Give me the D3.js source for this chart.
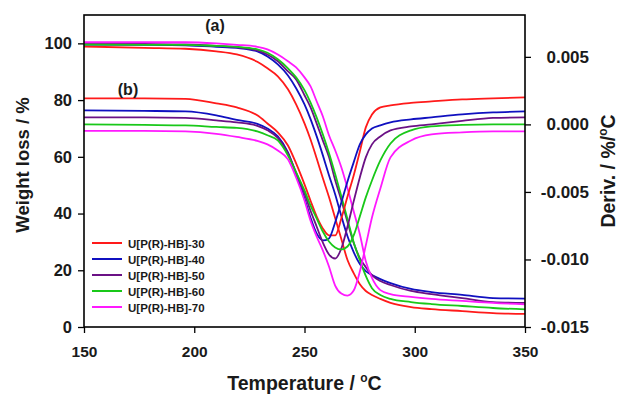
<!DOCTYPE html>
<html><head><meta charset="utf-8">
<script src="https://cdn.jsdelivr.net/npm/d3@7"></script>
<style>
html,body{margin:0;padding:0;background:#fff;}
svg{display:block;}
text{font-family:"Liberation Sans",Arial,sans-serif;font-weight:bold;fill:#1a1a1a;}
</style></head><body>
<svg id="chart" width="620" height="395"></svg>
<script>
// ---- data ----
const temps = [150, 177.4, 196, 210, 219.3, 228.6, 233.2, 237.9, 242.5, 246.2, 250, 252.7, 255.5, 258.3, 261.1, 263.9, 266.7, 269.5, 272.3, 275.1, 277.8, 280.6, 284.4, 289, 298.3, 307.6, 321.5, 335.5, 350];

const tg30 = [98.9, 98.4, 98.1, 97.2, 96.1, 93.5, 91.2, 88.4, 83.8, 78.5, 71.8, 66.2, 59.5, 52.5, 45.8, 38.4, 31.0, 23.6, 19.0, 15.1, 12.7, 11.3, 9.9, 8.5, 7.0, 6.3, 5.6, 4.9, 4.6];
const tg40 = [99.6, 99.5, 99.3, 98.8, 98.4, 97.2, 95.4, 92.6, 88.7, 84.2, 78.5, 73.4, 67.3, 60.6, 53.5, 46.8, 39.1, 32.0, 26.4, 22.2, 19.7, 18.3, 16.9, 15.5, 13.4, 12.3, 11.3, 10.2, 10.0];
const tg50 = [100, 99.8, 99.6, 99.1, 98.6, 97.5, 96.1, 93.7, 90.1, 87.3, 81.7, 77.5, 71.8, 65.8, 59.9, 51.8, 44.7, 37.0, 29.6, 24.3, 21.1, 18.3, 16.2, 14.8, 12.7, 11.6, 10.2, 8.8, 8.5];
const tg60 = [99.6, 99.5, 99.5, 99.1, 98.8, 97.9, 96.7, 94.4, 91.2, 88.0, 83.5, 79.2, 73.9, 67.9, 61.3, 53.9, 46.1, 38.0, 29.9, 23.6, 18.0, 13.7, 11.3, 9.9, 8.8, 8.1, 7.4, 6.7, 6.2];
const tg70 = [100.4, 100.4, 100.4, 100, 99.5, 98.8, 97.9, 96.1, 93.7, 91.5, 88.0, 84.9, 79.6, 74.3, 67.6, 62.3, 56.3, 48.9, 40.8, 32.7, 23.2, 17.3, 13.0, 11.6, 10.6, 9.9, 9.2, 8.5, 8.0];

const dtg30 = [0.00193, 0.00193, 0.00189, 0.00156, 0.00126, 0.00067, 0.00007, -0.00059, -0.00156, -0.00289, -0.00444, -0.00563, -0.00681, -0.0077, -0.00822, -0.00822, -0.00696, -0.00533, -0.00378, -0.002, -0.00022, 0.00074, 0.00126, 0.00141, 0.00159, 0.0017, 0.00185, 0.00193, 0.002];
const dtg40 = [0.00104, 0.001, 0.00096, 0.00067, 0.00033, 0.00004, -0.0003, -0.00089, -0.00207, -0.0037, -0.00548, -0.00689, -0.00807, -0.00859, -0.00844, -0.00726, -0.00578, -0.00422, -0.00281, -0.00148, -0.00074, -0.0003, -0.00007, 0.00015, 0.00037, 0.00052, 0.00074, 0.00089, 0.00096];
const dtg50 = [0.00052, 0.00052, 0.00048, 0.0003, 0.00015, -0.00011, -0.00044, -0.001, -0.00215, -0.00356, -0.00511, -0.00637, -0.00756, -0.00874, -0.00963, -0.00993, -0.00919, -0.00756, -0.0057, -0.00393, -0.00244, -0.00148, -0.00089, -0.00044, -0.00015, 0.0, 0.00026, 0.00048, 0.00052];
const dtg60 = [0.0, -0.00004, -0.00007, -0.00019, -0.00026, -0.00052, -0.0008, -0.00119, -0.0023, -0.00356, -0.00489, -0.006, -0.00696, -0.00793, -0.00867, -0.00911, -0.00926, -0.00904, -0.00822, -0.00681, -0.0054, -0.00415, -0.00267, -0.00141, -0.00044, -0.00015, -0.00004, 0.0, 0.0];
const dtg70 = [-0.00048, -0.00048, -0.00052, -0.0007, -0.00093, -0.00122, -0.00148, -0.00193, -0.00259, -0.00393, -0.00563, -0.00711, -0.0083, -0.00933, -0.01052, -0.01193, -0.01252, -0.01267, -0.0123, -0.01089, -0.00896, -0.00689, -0.00474, -0.00244, -0.00119, -0.00074, -0.00059, -0.00052, -0.00052];

const seriesNames = ["U[P(R)-HB]-30", "U[P(R)-HB]-40", "U[P(R)-HB]-50", "U[P(R)-HB]-60", "U[P(R)-HB]-70"];
const xTicks = [150, 200, 250, 300, 350];
const leftTicks = [0, 20, 40, 60, 80, 100];
const rightTicks = [-0.015, -0.010, -0.005, 0.000, 0.005];
const rightTickLabels = ["-0.015", "-0.010", "-0.005", "0.000", "0.005"];

// ---- styles ----
const colors = ["#ff1a1a", "#1010c0", "#6b1185", "#19c819", "#ff19ff"];

const svg = d3.select("#chart");
const m = {left: 84, right: 525, top: 15, bottom: 327};
const x = d3.scaleLinear().domain([150, 350]).range([m.left, m.right]);
const yL = d3.scaleLinear().domain([0, 110]).range([m.bottom, m.top]);
const yR = d3.scaleLinear().domain([-0.015, 0.0081]).range([m.bottom, m.top]);

svg.append("defs").append("clipPath").attr("id", "clip")
  .append("rect").attr("x", m.left).attr("y", m.top)
  .attr("width", m.right - m.left).attr("height", m.bottom - m.top);

const plot = svg.append("g").attr("clip-path", "url(#clip)");
const mkLine = (ys) => d3.line().x((d, i) => x(temps[i])).y(d => ys(d)).curve(d3.curveMonotoneX);

const tgSeries = [tg30, tg40, tg50, tg60, tg70];
const dtgSeries = [dtg30, dtg40, dtg50, dtg60, dtg70];

tgSeries.forEach((s, i) => {
  plot.append("path").attr("d", mkLine(yL)(s)).attr("fill", "none")
    .attr("stroke", colors[i]).attr("stroke-width", 1.8);
});
dtgSeries.forEach((s, i) => {
  plot.append("path").attr("d", mkLine(yR)(s)).attr("fill", "none")
    .attr("stroke", colors[i]).attr("stroke-width", 1.8);
});

// axes
const axStyle = (g, fs) => {
  g.select(".domain").remove();
  g.selectAll("line").attr("stroke", "#000").attr("stroke-width", 1.3);
  g.selectAll("text").style("font-size", fs + "px");
};
svg.append("g").attr("transform", `translate(${m.left},0)`)
  .call(d3.axisLeft(yL).tickValues(leftTicks).tickSize(6).tickPadding(6).tickFormat(d3.format("d")))
  .call(g => axStyle(g, 16.5));

svg.append("g").attr("transform", `translate(${m.right},0)`)
  .call(d3.axisRight(yR).tickValues(rightTicks).tickSize(6).tickFormat((d, i) => rightTickLabels[i]))
  .call(g => axStyle(g, 17))
  .call(g => g.selectAll("text").attr("text-anchor", "end").attr("x", 64));

svg.append("g").attr("transform", `translate(0,${m.bottom})`)
  .call(d3.axisBottom(x).tickValues(xTicks).tickSize(6).tickFormat(d3.format("d")))
  .call(g => axStyle(g, 15.5))
  .call(g => g.selectAll("text").attr("dy", null).attr("y", 30));

// frame
svg.append("rect").attr("x", m.left).attr("y", m.top)
  .attr("width", m.right - m.left).attr("height", m.bottom - m.top)
  .attr("fill", "none").attr("stroke", "#000").attr("stroke-width", 1.6);

// titles
const xt = svg.append("text").attr("x", (m.left + m.right) / 2).attr("y", 390)
  .attr("text-anchor", "middle").style("font-size", "19.5px");
xt.append("tspan").text("Temperature / ");
xt.append("tspan").text("o").style("font-size", "12px").attr("dy", -8);
xt.append("tspan").text("C").attr("dy", 8);

svg.append("text").attr("transform", "translate(29,165) rotate(-90)")
  .attr("text-anchor", "middle").style("font-size", "18.5px").text("Weight loss / %");

const rt = svg.append("text").attr("transform", "translate(615,171) rotate(-90)")
  .attr("text-anchor", "middle").style("font-size", "19.5px");
rt.append("tspan").text("Deriv. / %/");
rt.append("tspan").text("o").style("font-size", "12px").attr("dy", -8);
rt.append("tspan").text("C").attr("dy", 8);

svg.append("text").attr("x", 215).attr("y", 31).attr("text-anchor", "middle")
  .style("font-size", "16px").text("(a)");
svg.append("text").attr("x", 128).attr("y", 95).attr("text-anchor", "middle")
  .style("font-size", "16px").text("(b)");

// legend
const lg = svg.append("g");
seriesNames.forEach((n, i) => {
  const yy = 243 + i * 16;
  lg.append("line").attr("x1", 92).attr("x2", 122).attr("y1", yy).attr("y2", yy)
    .attr("stroke", colors[i]).attr("stroke-width", 2);
  lg.append("text").attr("x", 128).attr("y", yy + 4.5).style("font-size", "11.5px").text(n);
});
</script></body></html>
